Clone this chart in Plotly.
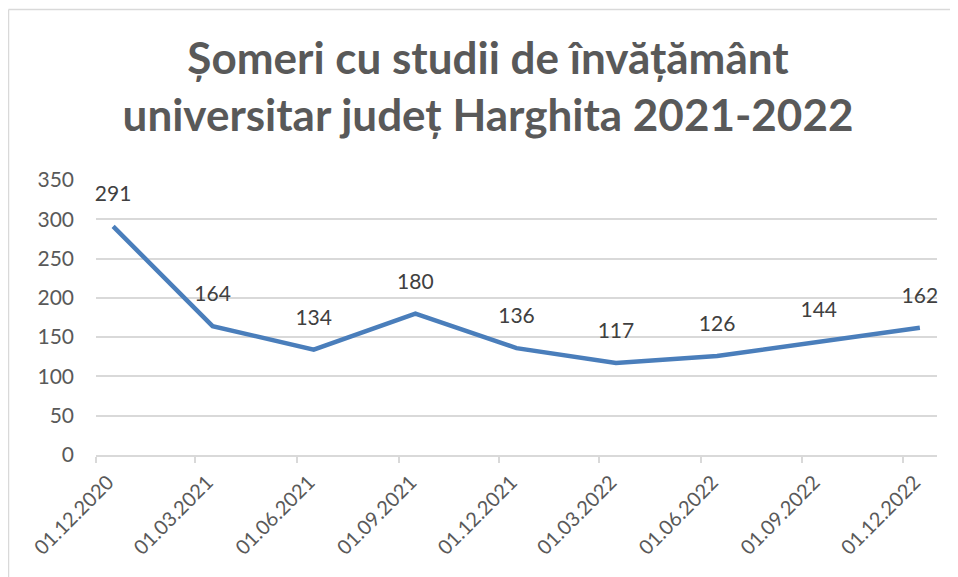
import plotly.graph_objects as go

dates = ["2020-12-01", "2021-03-01", "2021-06-01", "2021-09-01", "2021-12-01",
         "2022-03-01", "2022-06-01", "2022-09-01", "2022-12-01"]
values = [291, 164, 134, 180, 136, 117, 126, 144, 162]
tick_labels = ["01.12.2020", "01.03.2021", "01.06.2021", "01.09.2021", "01.12.2021",
               "01.03.2022", "01.06.2022", "01.09.2022", "01.12.2022"]
title_text = "Șomeri cu studii de învățământ<br>universitar județ Harghita 2021-2022"

# page body has an 8px default margin, so the figure is sized to fit the window
W, H = 950, 569
ml, mr, mt, mb = 88, 21, 172, 122
FONT = "Lato"

fig = go.Figure()
fig.add_trace(go.Scatter(
    x=dates, y=values,
    xperiod="M1", xperiodalignment="middle",
    mode="lines+markers+text",
    line=dict(color="#4A7EBB", width=4.5),
    marker=dict(size=30, color="rgba(0,0,0,0)"),
    text=[str(v) for v in values],
    textposition="top center",
    textfont=dict(family=FONT, size=21, color="#404040"),
    hoverinfo="x+y",
    cliponaxis=False,
))

pw = W - ml - mr
ph = H - mt - mb
# chart-area border: only the left and top edges fall inside the window
fig.add_shape(type="line", xref="paper", yref="paper",
              x0=-(ml - 0.5) / pw, x1=-(ml - 0.5) / pw,
              y0=-(mb + 50) / ph, y1=1 + (mt - 1.5) / ph,
              line=dict(color="#D9D9D9", width=1.5), layer="below")
fig.add_shape(type="line", xref="paper", yref="paper",
              x0=-(ml - 0.5) / pw, x1=(W + 50 - ml) / pw,
              y0=1 + (mt - 1.5) / ph, y1=1 + (mt - 1.5) / ph,
              line=dict(color="#D9D9D9", width=1.5), layer="below")

fig.update_layout(
    width=W, height=H,
    margin=dict(l=ml, r=mr, t=mt, b=mb, autoexpand=False),
    paper_bgcolor="white", plot_bgcolor="white",
    showlegend=False,
    title=dict(text=title_text, x=480 / W, xanchor="center", xref="container",
               y=1 - 66 / H, yref="container", yanchor="top",
               font=dict(family=FONT, size=44, color="#595959", weight="bold")),
    xaxis=dict(type="date", range=["2020-12-01", "2023-01-01"], automargin=False,
               tickvals=dates, ticktext=tick_labels, tickangle=-45,
               tickfont=dict(family=FONT, size=20, color="#595959"),
               showgrid=False, showline=True, linecolor="#D9D9D9", linewidth=1.5,
               ticks="outside", ticklen=6, tickcolor="#D9D9D9", tickwidth=1.5,
               zeroline=False, ticklabelshift=12),
    yaxis=dict(range=[0, 350], dtick=50, tick0=0, automargin=False,
               tickfont=dict(family=FONT, size=21, color="#595959"),
               showgrid=True, gridcolor="#D9D9D9", gridwidth=1.5,
               showline=False, zeroline=False, ticks="", ticklabelstandoff=21),
)

fig.write_html("out.html")
